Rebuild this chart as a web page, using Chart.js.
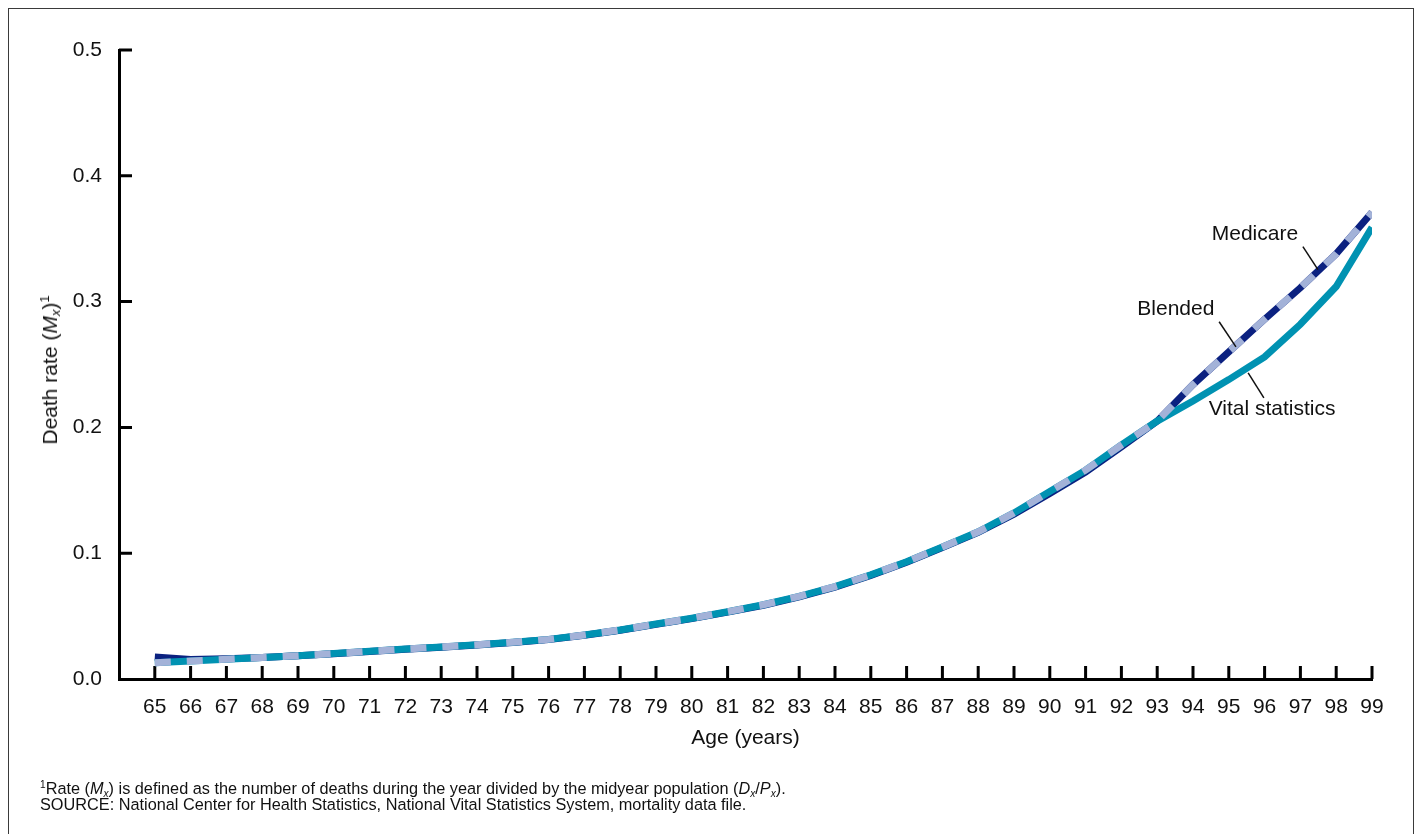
<!DOCTYPE html>
<html>
<head>
<meta charset="utf-8">
<title>Death rates by age</title>
<script src="https://cdn.jsdelivr.net/npm/chart.js@4.4.0/dist/chart.umd.min.js"></script>
<style>
  html, body { margin: 0; padding: 0; background: #fff; }
  body {
    width: 1425px; height: 834px; position: relative; overflow: hidden;
    font-family: "Liberation Sans", Arial, sans-serif; color: #111;
  }
  .frame {
    position: absolute; left: 8px; top: 8px; width: 1406px; height: 900px;
    border: 1.5px solid #3a3a3a; box-sizing: border-box;
  }
  #chart { position: absolute; left: 0; top: 0; }
  .ytitle {
    position: absolute; left: 50px; top: 370px; white-space: nowrap;
    transform: translate(-50%, -50%) rotate(-90deg);
    font-size: 21px; line-height: 24px;
  }
  .notes {
    position: absolute; left: 40px; top: 780px;
    font-size: 16.3px; line-height: 16px; white-space: nowrap;
  }
  sub, sup { line-height: 0; font-size: 0.62em; }
  sub { vertical-align: -0.25em; }
  sup { vertical-align: 0.6em; }
</style>
</head>
<body>
<div class="frame"></div>
<canvas id="chart" width="1425" height="834"></canvas>
<div class="ytitle">Death rate (<i>M<sub>x</sub></i>)<sup>1</sup></div>
<div class="notes">
  <div><sup>1</sup>Rate (<i>M<sub>x</sub></i>) is defined as the number of deaths during the year divided by the midyear population (<i>D<sub>x</sub></i>/<i>P<sub>x</sub></i>).</div>
  <div>SOURCE: National Center for Health Statistics, National Vital Statistics System, mortality data file.</div>
</div>
<script>
// ages on the x axis
const ages = [65, 66, 67, 68, 69, 70, 71, 72, 73, 74, 75, 76, 77, 78, 79, 80, 81,
              82, 83, 84, 85, 86, 87, 88, 89, 90, 91, 92, 93, 94, 95, 96, 97, 98, 99];

// death rates
const vitalStatistics = [0.0130, 0.0143, 0.0157, 0.0171, 0.0185, 0.0202, 0.0220, 0.0238, 0.0255, 0.0272,
                         0.0293, 0.0315, 0.0350, 0.0390, 0.0437, 0.0483, 0.0535, 0.0590, 0.0657, 0.0735,
                         0.0828, 0.0932, 0.1050, 0.1170, 0.1320, 0.1490, 0.1660, 0.1860, 0.2050, 0.2210,
                         0.2380, 0.2560, 0.2820, 0.3120, 0.3590];
const medicare = [0.0175, 0.0155, 0.0160, 0.0171, 0.0184, 0.0200, 0.0218, 0.0236, 0.0253, 0.0270,
                  0.0291, 0.0313, 0.0348, 0.0388, 0.0434, 0.0480, 0.0532, 0.0586, 0.0652, 0.0730,
                  0.0824, 0.0928, 0.1045, 0.1165, 0.1310, 0.1475, 0.1645, 0.1845, 0.2050, 0.2340,
                  0.2600, 0.2860, 0.3110, 0.3380, 0.3710];
const blended = [0.0130, 0.0143, 0.0157, 0.0171, 0.0185, 0.0202, 0.0220, 0.0238, 0.0255, 0.0272,
                 0.0293, 0.0315, 0.0350, 0.0390, 0.0437, 0.0483, 0.0535, 0.0590, 0.0657, 0.0735,
                 0.0828, 0.0932, 0.1050, 0.1170, 0.1320, 0.1490, 0.1660, 0.1860, 0.2050, 0.2340,
                 0.2600, 0.2860, 0.3110, 0.3380, 0.3710];

// y tick labels
const yTicks = ['0.0', '0.1', '0.2', '0.3', '0.4', '0.5'];

// line labels with a short leader line, in data units (age, rate)
const lineLabels = [
  { text: 'Medicare',         at: [95.73, 0.3532], from: [97.07, 0.3437], to: [97.49, 0.3254] },
  { text: 'Blended',          at: [93.52, 0.2936], from: [94.73, 0.2840], to: [95.20, 0.2640] },
  { text: 'Vital statistics', at: [96.21, 0.2148], from: [95.98, 0.2235], to: [95.54, 0.2434] }
];

const FONT = '"Liberation Sans", Arial, sans-serif';
const toPoints = (vals) => vals.map((v, i) => ({ x: ages[i], y: v }));

// tick marks pointing into the plot area
const inwardTicks = {
  id: 'inwardTicks',
  beforeDatasetsDraw(chart) {
    const { ctx, chartArea, scales: { x, y } } = chart;
    ctx.save();
    ctx.strokeStyle = '#000';
    ctx.lineWidth = 3;
    ctx.beginPath();
    x.ticks.forEach(t => {
      if (t.value < ages[0]) return;
      const px = x.getPixelForValue(t.value);
      ctx.moveTo(px, chartArea.bottom);
      ctx.lineTo(px, chartArea.bottom - 13);
    });
    y.ticks.forEach(t => {
      if (t.value === 0) return;
      const py = y.getPixelForValue(t.value);
      ctx.moveTo(chartArea.left, py);
      ctx.lineTo(chartArea.left + 13, py);
    });
    ctx.stroke();
    ctx.restore();
  }
};

const seriesLabels = {
  id: 'seriesLabels',
  afterDatasetsDraw(chart) {
    const { ctx, scales: { x, y } } = chart;
    ctx.save();
    ctx.font = '21px ' + FONT;
    ctx.fillStyle = '#111';
    ctx.strokeStyle = '#111';
    ctx.lineWidth = 1.5;
    ctx.textAlign = 'center';
    ctx.textBaseline = 'middle';
    lineLabels.forEach(l => {
      ctx.fillText(l.text, x.getPixelForValue(l.at[0]), y.getPixelForValue(l.at[1]));
      ctx.beginPath();
      ctx.moveTo(x.getPixelForValue(l.from[0]), y.getPixelForValue(l.from[1]));
      ctx.lineTo(x.getPixelForValue(l.to[0]), y.getPixelForValue(l.to[1]));
      ctx.stroke();
    });
    ctx.restore();
  }
};

new Chart(document.getElementById('chart'), {
  type: 'line',
  data: {
    datasets: [
      {
        label: 'Blended',
        data: toPoints(blended),
        borderColor: '#a3b2d8',
        borderWidth: 7,
        borderDash: [16, 16],
        borderCapStyle: 'butt',
        order: 0
      },
      {
        label: 'Vital statistics',
        data: toPoints(vitalStatistics),
        borderColor: '#0092b2',
        borderWidth: 7,
        order: 1
      },
      {
        label: 'Medicare',
        data: toPoints(medicare),
        borderColor: '#0b2180',
        borderWidth: 7,
        order: 2
      }
    ]
  },
  options: {
    responsive: false,
    animation: false,
    layout: { padding: { left: 0, top: 50, right: 53, bottom: 0 } },
    elements: {
      point: { radius: 0, hoverRadius: 0 },
      line: { tension: 0, fill: false, borderJoinStyle: 'miter' }
    },
    plugins: {
      legend: { display: false },
      tooltip: { enabled: false }
    },
    scales: {
      x: {
        type: 'linear',
        min: ages[0] - 1,
        max: ages[ages.length - 1],
        afterFit: (scale) => { scale.height = 155; },
        grid: { display: false, drawTicks: false },
        border: { display: true, color: '#000', width: 3 },
        ticks: {
          stepSize: 1,
          autoSkip: false,
          maxRotation: 0,
          padding: 16,
          color: '#111',
          font: { family: FONT, size: 21 },
          callback: (v) => (v < ages[0] ? '' : String(v))
        },
        title: {
          display: true,
          text: 'Age (years)',
          color: '#111',
          font: { family: FONT, size: 21 },
          padding: { top: 0, bottom: 83 }
        }
      },
      y: {
        min: 0,
        max: 0.5,
        afterFit: (scale) => { scale.width = 119; },
        grid: { display: false, drawTicks: false },
        border: { display: true, color: '#000', width: 3 },
        ticks: {
          stepSize: 0.1,
          padding: 17,
          color: '#111',
          font: { family: FONT, size: 21 },
          callback: (v) => yTicks[Math.round(v * 10)]
        }
      }
    }
  },
  plugins: [inwardTicks, seriesLabels]
});
</script>
</body>
</html>
